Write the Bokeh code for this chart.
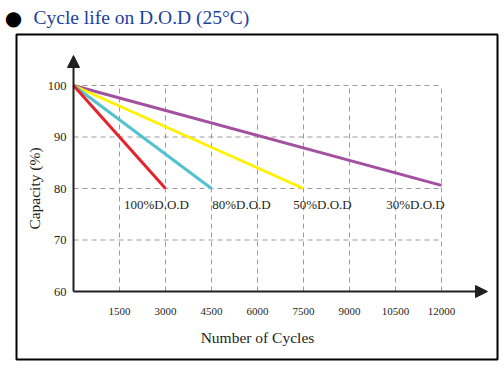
from bokeh.plotting import figure
from bokeh.models import Range1d, FixedTicker, Arrow, NormalHead, BoxAnnotation, Label, ColumnDataSource
from bokeh.core.properties import value
from bokeh.embed import file_html
from bokeh.resources import INLINE

# ---- data ----
title_text = "Cycle life on D.O.D (25°C)"
dod_labels = ["100%D.O.D", "80%D.O.D", "50%D.O.D", "30%D.O.D"]
start_cycles = 0
start_capacity = 100
end_cycles = [3000, 4500, 7500, 12000]
end_capacity = [80, 80, 80, 80.6]
eol_capacity = 80
x_ticks = [1500, 3000, 4500, 6000, 7500, 9000, 10500, 12000]
y_ticks = [60, 70, 80, 90, 100]
x_label = "Number of Cycles"
y_label = "Capacity (%)"

# ---- styles / layout ----
colors = ["#E5232B", "#52C3CC", "#FFF100", "#A2509F"]
label_dx = [-9, 30, 19, -26]
dark = "#231F20"
grid_col = "#9a9a9a"
serif = "Liberation Serif"
W, H = 500, 364
# pixel anchors of the axes inside the canvas
x0_px, x12k_px = 73, 441
y100_px, y60_px = 85, 291
kx = (x12k_px - x0_px) / (max(x_ticks) - start_cycles)
ky = (y60_px - y100_px) / (max(y_ticks) - min(y_ticks))
x_lo = start_cycles - x0_px / kx
x_hi = x_lo + W / kx
y_hi = max(y_ticks) + y100_px / ky
y_lo = y_hi - H / ky
arrow_x_end = start_cycles + (487 - x0_px) / kx
arrow_y_end = max(y_ticks) + (y100_px - 55) / ky

p = figure(width=W, height=H, x_range=Range1d(x_lo, x_hi), y_range=Range1d(y_lo, y_hi),
           output_backend="svg", toolbar_location=None, title_location=None,
           min_border=0, min_border_left=0, min_border_right=0, min_border_top=0, min_border_bottom=0)
p.outline_line_color = None
p.background_fill_color = "white"
p.border_fill_color = "white"
p.xgrid.visible = False
p.ygrid.visible = False

for ax in (p.xaxis[0], p.yaxis[0]):
    ax.axis_line_color = None
    ax.major_tick_line_color = None
    ax.minor_tick_line_color = None
    ax.major_tick_in = 0
    ax.major_tick_out = 0
    ax.minor_tick_in = 0
    ax.minor_tick_out = 0
    ax.major_label_text_font = serif
    ax.major_label_text_color = dark
    ax.axis_label_text_font = serif
    ax.axis_label_text_font_style = "normal"
    ax.axis_label_text_color = dark
    ax.axis_label_text_font_size = "15.5px"

p.xaxis.fixed_location = min(y_ticks)
p.yaxis.fixed_location = start_cycles
p.xaxis.bounds = (start_cycles, max(x_ticks))
p.yaxis.bounds = (min(y_ticks), max(y_ticks))
p.xaxis.ticker = FixedTicker(ticks=x_ticks)
p.yaxis.ticker = FixedTicker(ticks=y_ticks)
p.xaxis.major_label_text_font_size = "11px"
p.yaxis.major_label_text_font_size = "12.5px"
p.xaxis.major_label_standoff = 16
p.yaxis.major_label_standoff = 7
p.xaxis.axis_label = x_label
p.yaxis.axis_label = y_label
p.xaxis.axis_label_standoff = 11
p.yaxis.axis_label_standoff = 2

# grid (dashed), limited to the data area
nx = len(x_ticks)
p.segment(x0=x_ticks, y0=[min(y_ticks)] * nx, x1=x_ticks, y1=[max(y_ticks)] * nx,
          line_color=grid_col, line_width=1, line_dash="5 4")
hy = y_ticks[1:]
p.segment(x0=[start_cycles] * len(hy), y0=hy, x1=[max(x_ticks)] * len(hy), y1=hy,
          line_color=grid_col, line_width=1, line_dash="5 4")

# series lines
for i in reversed(range(len(end_cycles))):
    p.line([start_cycles, end_cycles[i]], [start_capacity, end_capacity[i]],
           line_color=colors[i], line_width=3)

# labels
src = ColumnDataSource(dict(x=end_cycles, y=[eol_capacity] * len(end_cycles), t=dod_labels, dx=label_dx))
p.text(x="x", y="y", text="t", x_offset="dx", y_offset=16, source=src,
       text_font=value(serif), text_font_size="13px", text_color=dark,
       text_align="center", text_baseline="middle")

# axis arrows
p.add_layout(Arrow(end=NormalHead(size=12, fill_color=dark, line_color=dark, line_width=1),
                   x_start=start_cycles, y_start=min(y_ticks), x_end=arrow_x_end, y_end=min(y_ticks),
                   line_color=dark, line_width=2))
p.add_layout(Arrow(end=NormalHead(size=12, fill_color=dark, line_color=dark, line_width=1),
                   x_start=start_cycles, y_start=min(y_ticks), x_end=start_cycles, y_end=arrow_y_end,
                   line_color=dark, line_width=2))

# outer box
p.add_layout(BoxAnnotation(left=16, right=497, top=H - 34, bottom=H - 359,
                           left_units="screen", right_units="screen", top_units="screen", bottom_units="screen",
                           fill_alpha=0, fill_color=None, line_color="black", line_alpha=1.0, line_width=2))

# title
p.add_layout(Label(x=13, y=H - 17, x_units="screen", y_units="screen", text="●",
                   text_font="DejaVu Sans", text_font_size="20px", text_color="black",
                   text_align="center", text_baseline="middle"))
p.add_layout(Label(x=33, y=H - 17, x_units="screen", y_units="screen", text=title_text,
                   text_font=serif, text_font_size="19.5px", text_color="#1c3f9e",
                   text_align="left", text_baseline="middle"))

open("out.html", "w").write(file_html(p, INLINE))
